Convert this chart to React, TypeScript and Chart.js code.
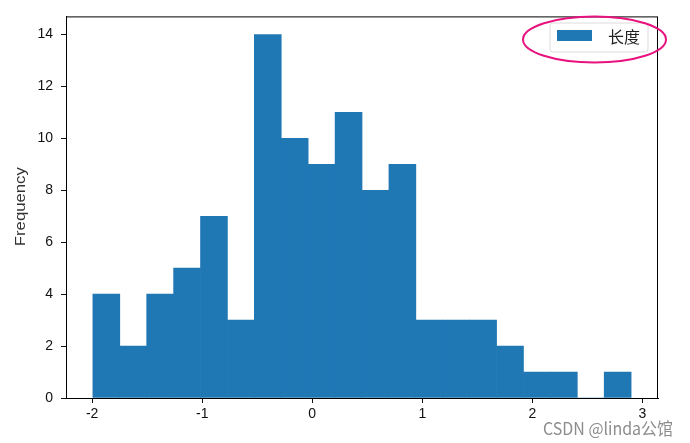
import React, { useEffect, useRef } from "react";
import { Chart, registerables } from "chart.js";

Chart.register(...registerables);

// Histogram bin edges (21 edges -> 20 bins)
const binEdges = [
  -1.993, -1.749, -1.504, -1.26, -1.015, -0.771, -0.526, -0.282, -0.037,
  0.208, 0.452, 0.697, 0.941, 1.186, 1.43, 1.675, 1.919, 2.164, 2.408,
  2.653, 2.897,
];
// Counts per bin
const counts = [4, 2, 4, 5, 7, 3, 14, 10, 9, 11, 8, 9, 3, 3, 3, 2, 1, 1, 0, 1];
const seriesLabel = "长度";
const yTicks = [0, 2, 4, 6, 8, 10, 12, 14];
const xTicks = [-2, -1, 0, 1, 2, 3];
const yTitle = "Frequency";
const watermark = "CSDN @linda公馆";

const BLUE = "#1f77b4";
const TICK_FONT = "'Liberation Sans Narrow', 'Liberation Sans', Arial, sans-serif";

function fitText(ctx: any, text: string, x: number, y: number, width: number) {
  const w = ctx.measureText(text).width;
  ctx.save();
  ctx.translate(x, y);
  ctx.scale(width / w, 1);
  ctx.fillText(text, 0, 0);
  ctx.restore();
}

export default function App() {
  const ref = useRef<HTMLCanvasElement | null>(null);

  useEffect(() => {
    const canvas = ref.current;
    if (!canvas) return;
    const data = counts.map((c, i) => ({
      x: (binEdges[i] + binEdges[i + 1]) / 2,
      y: c,
    }));
    const span = binEdges[binEdges.length - 1] - binEdges[0];
    const xMin = binEdges[0] - span * 0.05;
    const xMax = binEdges[binEdges.length - 1] + span * 0.05;
    const yMax = Math.max(...counts) * 1.05;

    const overlay = {
      id: "overlay",
      afterDraw(chart: any) {
        const { ctx, chartArea } = chart;
        const { left, top, right, bottom } = chartArea;
        ctx.save();
        // spines
        ctx.strokeStyle = "#000";
        ctx.lineWidth = 1;
        ctx.strokeRect(left + 0.5, top + 0.5, right - left - 1, bottom - top);

        // y title
        ctx.save();
        ctx.translate(21, (top + bottom) / 2);
        ctx.rotate(-Math.PI / 2);
        ctx.fillStyle = "#333";
        ctx.font = `14px 'Liberation Sans', Arial, sans-serif`;
        ctx.textAlign = "left";
        ctx.textBaseline = "middle";
        fitText(ctx, yTitle, -39, 0, 79);
        ctx.restore();

        // legend box
        const lx = 550, ly = 23, lw = 98, lh = 29, r = 3;
        ctx.beginPath();
        ctx.moveTo(lx + r, ly);
        ctx.arcTo(lx + lw, ly, lx + lw, ly + lh, r);
        ctx.arcTo(lx + lw, ly + lh, lx, ly + lh, r);
        ctx.arcTo(lx, ly + lh, lx, ly, r);
        ctx.arcTo(lx, ly, lx + lw, ly, r);
        ctx.closePath();
        ctx.fillStyle = "rgba(255,255,255,0.85)";
        ctx.fill();
        ctx.strokeStyle = "#dcdcdc";
        ctx.lineWidth = 1;
        ctx.stroke();
        ctx.fillStyle = BLUE;
        ctx.fillRect(557, 30, 35, 11);
        ctx.fillStyle = "#222";
        ctx.font = "16px 'Noto Sans CJK SC', sans-serif";
        ctx.textAlign = "left";
        ctx.textBaseline = "middle";
        fitText(ctx, seriesLabel, 608, 37, 32);

        // magenta ellipse annotation
        ctx.beginPath();
        ctx.ellipse(594.5, 39.5, 71.5, 23, 0, 0, Math.PI * 2);
        ctx.strokeStyle = "#e8127f";
        ctx.lineWidth = 2;
        ctx.stroke();

        // watermark
        ctx.fillStyle = "rgba(120,120,120,0.85)";
        ctx.font = "17px 'Noto Sans CJK SC', sans-serif";
        ctx.textAlign = "left";
        ctx.textBaseline = "middle";
        fitText(ctx, watermark, 543, 429, 130);
        ctx.restore();
      },
    };

    const chart = new Chart(canvas, {
      type: "bar",
      data: {
        datasets: [
          {
            label: seriesLabel,
            data,
            backgroundColor: BLUE,
            borderWidth: 0,
            barPercentage: 1,
            categoryPercentage: 1,
          },
        ],
      },
      options: {
        animation: false,
        responsive: false,
        maintainAspectRatio: false,
        layout: { padding: { top: 13, right: 32, left: 0, bottom: 0 } },
        plugins: {
          legend: { display: false },
          tooltip: { enabled: false },
        },
        scales: {
          x: {
            type: "linear",
            offset: false,
            min: xMin,
            max: xMax,
            afterFit(scale: any) {
              scale.height = 45;
            },
            afterBuildTicks(scale: any) {
              scale.ticks = xTicks.map((v) => ({ value: v }));
            },
            ticks: {
              includeBounds: false,
              autoSkip: false,
              maxRotation: 0,
              padding: 3,
              color: "#111",
              font: { family: TICK_FONT, size: 14 },
              callback: (v: any) => String(v),
            },
            grid: {
              display: true,
              offset: false,
              drawOnChartArea: false,
              drawTicks: true,
              tickLength: 5,
              tickColor: "#111",
            },
            border: { display: true, color: "#000", width: 1 },
          },
          y: {
            type: "linear",
            min: 0,
            max: yMax,
            afterFit(scale: any) {
              scale.width = 66;
            },
            afterBuildTicks(scale: any) {
              scale.ticks = yTicks.map((v) => ({ value: v }));
            },
            ticks: {
              includeBounds: false,
              autoSkip: false,
              padding: 8,
              color: "#111",
              font: { family: TICK_FONT, size: 14 },
              callback: (v: any) => String(v),
            },
            grid: {
              display: true,
              offset: false,
              drawOnChartArea: false,
              drawTicks: true,
              tickLength: 5,
              tickColor: "#111",
            },
            border: { display: true, color: "#000", width: 1 },
          },
        },
      },
      plugins: [overlay],
    } as any);

    return () => chart.destroy();
  }, []);

  return (
    <div
      style={{
        position: "fixed",
        left: 0,
        top: 0,
        width: 690,
        height: 443,
        background: "#fff",
      }}
    >
      <canvas ref={ref} width={690} height={443} style={{ width: 690, height: 443 }} />
    </div>
  );
}
